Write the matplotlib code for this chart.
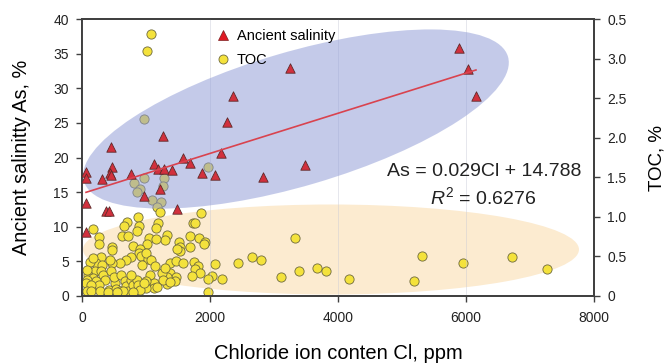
import numpy as np
import matplotlib
matplotlib.use('Agg')
import matplotlib.pyplot as plt
from matplotlib.patches import Ellipse
from matplotlib.transforms import Affine2D
from matplotlib.lines import Line2D

plt.rcParams['font.family'] = ['Liberation Sans', 'DejaVu Sans']
plt.rcParams['mathtext.fontset'] = 'custom'
plt.rcParams['mathtext.rm'] = 'Liberation Sans'
plt.rcParams['mathtext.it'] = 'Liberation Sans:italic'

# ancient salinity (left axis)
cl_as = [3250, 2360, 2265, 1265, 453, 2170, 1578, 5890, 6031, 6156,
         1688, 1125, 469, 1188, 1281, 1406, 63, 437, 453, 766,
         1875, 2078, 2828, 3484, 63, 313, 1219, 969, 63, 1484,
         375, 422, 63]
as_vals = [32.9, 28.9, 25.1, 23.1, 21.5, 20.6, 19.9, 35.8, 32.8, 28.9,
           19.2, 19.1, 18.6, 18.3, 18.3, 18.2, 17.9, 17.8, 17.5, 17.6,
           17.8, 17.5, 17.2, 18.9, 17.0, 16.9, 15.5, 14.4, 13.4, 12.6,
           12.3, 12.3, 9.2]

# TOC (right axis)
cl_toc = [875, 703, 656, 891, 1188, 1156, 1734, 1766, 172, 859,
          625, 719, 1047, 1328, 1297, 1156, 266, 266, 1688, 1828,
          1922, 1906, 1516, 1531, 1531, 1484, 1688, 469, 469, 797,
          1016, 906, 891, 922, 1031, 1000, 766, 688, 297, 219,
          313, 594, 469, 1078, 1141, 938, 1375, 1469, 1578, 1750,
          1813, 1766, 2078, 2438, 2656, 2797, 3328, 3672, 3813, 3391,
          3109, 4172, 2188, 2031, 1969, 1969, 1844, 1719, 1375, 1469,
          1453, 1328, 1328, 1250, 1297, 1063, 1125, 1125, 1000, 1000,
          94, 203, 297, 94, 172, 328, 359, 78, 62, 219,
          266, 141, 78, 141, 281, 422, 516, 531, 594, 453,
          500, 609, 672, 688, 719, 641, 766, 797, 859, 875,
          906, 969, 766, 438, 125, 172,
          1266, 1375, 1172, 406, 547, 797, 78,
          5313, 5188, 5953, 6719, 7266,
          1969, 969, 1281, 813, 1266, 906, 859, 1094, 1234, 1172,
          1219, 1859, 1078, 1016, 969]
toc = [1.00, 0.93, 0.88, 0.88, 0.92, 0.86, 0.92, 0.92, 0.85, 0.82,
       0.76, 0.76, 0.73, 0.77, 0.71, 0.72, 0.75, 0.66, 0.76, 0.73,
       0.68, 0.66, 0.68, 0.62, 0.57, 0.59, 0.62, 0.62, 0.58, 0.63,
       0.66, 0.59, 0.54, 0.51, 0.47, 0.54, 0.49, 0.45, 0.49, 0.42,
       0.39, 0.42, 0.42, 0.45, 0.38, 0.39, 0.42, 0.44, 0.42, 0.43,
       0.38, 0.34, 0.40, 0.42, 0.49, 0.45, 0.73, 0.35, 0.32, 0.32,
       0.24, 0.21, 0.21, 0.25, 0.21, 0.05, 0.29, 0.25, 0.29, 0.24,
       0.19, 0.24, 0.15, 0.29, 0.35, 0.27, 0.16, 0.10, 0.19, 0.10,
       0.32, 0.32, 0.32, 0.27, 0.23, 0.27, 0.20, 0.20, 0.16, 0.19,
       0.14, 0.14, 0.06, 0.06, 0.06, 0.08, 0.16, 0.09, 0.06, 0.32,
       0.24, 0.27, 0.19, 0.13, 0.06, 0.06, 0.20, 0.14, 0.20, 0.14,
       0.08, 0.16, 0.27, 0.45, 0.43, 0.48,
       0.20, 0.18, 0.11, 0.05, 0.05, 0.05, 0.33,
       0.51, 0.19, 0.42, 0.49, 0.34,
       1.63, 1.49, 1.49, 1.43, 1.39, 1.35, 1.31, 1.21, 1.19, 1.12,
       1.06, 1.05, 3.31, 3.10, 2.24]

# linear fit As = k*Cl + b
fit_k = 0.0029
fit_b = 14.788

x_ticks = [0, 2000, 4000, 6000, 8000]
as_ticks = [0, 5, 10, 15, 20, 25, 30, 35, 40]
toc_ticks = [0, 0.5, 1.0, 1.5, 2.0, 2.5, 3.0, 3.5]
toc_ticklabels = ['0', '0.5', '1.0', '1.5', '2.0', '2.5', '3.0', '0.5']

fig = plt.figure(figsize=(6.67, 3.63), dpi=100)
ax = fig.add_axes([0.1229, 0.1846, 0.7676, 0.763])
ax2 = ax.twinx()
ax.set_zorder(ax2.get_zorder() + 1)
ax.patch.set_visible(False)

# ellipses are drawn in pixel units of the axes box
W, H = 512.0, 277.0
pix = Affine2D().scale(1 / W, 1 / H)

orange = Ellipse((249, 46.5), 2 * 248, 2 * 45, angle=0, facecolor='#fcebd0',
                 edgecolor='none', transform=pix + ax2.transAxes, zorder=0)
ax2.add_patch(orange)

ax2.scatter(cl_toc, toc, s=44, marker='o', facecolor='#f4e23c',
            edgecolor='#6f6a3c', linewidth=0.6, zorder=2)
ax2.set_ylim(0, 3.5)
ax2.set_yticks(toc_ticks)
ax2.set_yticklabels(toc_ticklabels)
ax2.set_ylabel('TOC, %', fontsize=13.5)
ax2.yaxis.set_label_coords(1.107, 0.5)

blue = Ellipse((214, 177), 2 * 221, 2 * 67, angle=16.4, facecolor='#8f9bd6',
               edgecolor='none', alpha=0.52, transform=pix + ax.transAxes, zorder=1)
ax.add_patch(blue)

ax.scatter(cl_as, as_vals, s=46, marker='^', facecolor='#d2303d',
           edgecolor='#5e2a2a', linewidth=0.6, zorder=3)

xf = np.array([min(cl_as), max(cl_as)])
ax.plot(xf, fit_k * xf + fit_b, color='#d9434f', lw=1.2, zorder=4)

ax.set_xlim(0, 8000)
ax.set_ylim(0, 40)
ax.set_xticks(x_ticks)
ax.set_yticks(as_ticks)
ax.set_axisbelow(True)
ax.grid(axis='x', color='#c8cad6', lw=0.7, alpha=0.45)
ax.grid(axis='y', visible=False)

ax.set_xlabel('Chloride ion conten Cl, ppm', fontsize=14.5)
ax.xaxis.set_label_coords(0.5, -0.175)
ax.set_ylabel('Ancient salinitty As, %', fontsize=14.3)
ax.yaxis.set_label_coords(-0.1, 0.5)

for a in (ax, ax2):
    a.tick_params(direction='out', length=4.5, width=1.0, color='#404040',
                  labelsize=10, pad=5, labelcolor='#222222')
    for sp in a.spines.values():
        sp.set_color('#404040')
        sp.set_linewidth(1.3)
ax.tick_params(axis='x', pad=6)

ax.text(0.785, 0.451, 'As = 0.029Cl + 14.788', transform=ax.transAxes,
        ha='center', va='center', fontsize=14, color='#222222', zorder=5)
ax.text(0.783, 0.357, r'$R^2$ = 0.6276', transform=ax.transAxes,
        ha='center', va='center', fontsize=14, color='#222222', zorder=5)

handles = [
    Line2D([], [], ls='none', marker='^', markersize=7, markerfacecolor='#e01a24',
           markeredgecolor='#7a2020', markeredgewidth=0.5),
    Line2D([], [], ls='none', marker='o', markersize=6.5, markerfacecolor='#f4e23c',
           markeredgecolor='#6f6a3c', markeredgewidth=0.6),
]
leg = ax.legend(handles, ['Ancient salinity', 'TOC'], loc='upper left',
                bbox_to_anchor=(0.245, 1.0), frameon=False, fontsize=10.5,
                handlelength=0.8, handletextpad=0.5, labelspacing=0.7,
                borderaxespad=0.3)
leg.set_zorder(6)

fig.savefig('out.png', dpi=100)
